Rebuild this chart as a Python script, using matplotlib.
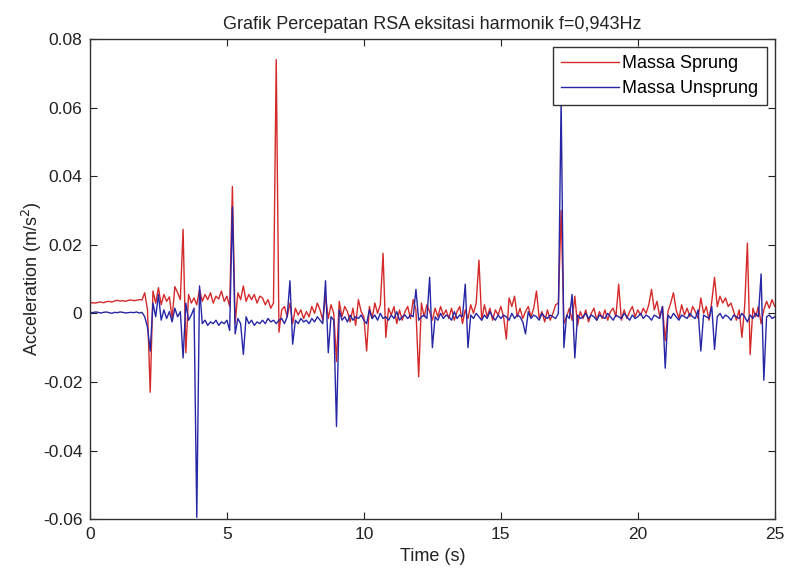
import numpy as np
import matplotlib
matplotlib.use('Agg')
import matplotlib.pyplot as plt

# Data: acceleration, in units of 0.001 m/s^2,
# one sample every 0.1 s from t = 0 to t = 25 s
dt = 0.1

sprung_milli = [
    3.0, 3.1, 3.0, 3.2, 3.3, 3.1, 3.4, 3.5, 3.3, 3.6,         # 0 s
    3.8, 3.6, 3.7, 3.5, 3.8, 3.9, 3.7, 3.8, 4.0, 3.9,         # 1 s
    6.0, 1.0, -23.0, 6.5, 3.0, 7.5, 2.5, 5.5, 3.5, 4.8,       # 2 s
    -1.5, 7.8, 6.0, 4.0, 24.5, -11.5, 5.5, 3.0, 4.5, 2.5,     # 3 s
    7.0, 3.5, 5.5, 4.0, 6.0, 3.0, 5.0, 4.2, 6.5, 3.5,         # 4 s
    5.0, 2.0, 37.0, -3.0, 6.0, 4.0, 8.0, 3.5, 5.5, 4.0,       # 5 s
    5.5, 3.0, 5.0, 4.5, 2.5, 4.0, 1.5, 3.0, 74.0, -5.5,       # 6 s
    1.0, 2.0, -1.0, 3.0, -3.0, 1.5, -0.5, 1.0, -1.5, 0.5,     # 7 s
    -1.0, 2.0, 0.0, 3.0, 1.0, -2.0, 5.0, -1.5, 2.5, 0.0,      # 8 s
    -14.0, 3.5, -1.0, 2.0, 0.5, -2.5, 1.5, -3.5, 4.0, 0.5,    # 9 s
    -1.0, -11.0, 2.0, -1.5, 3.0, 0.0, 2.5, 17.5, -7.0, 1.5,   # 10 s
    -0.5, 2.0, -3.0, 1.0, -2.0, 0.5, 2.0, -1.5, 4.0, 1.0,     # 11 s
    -18.5, 3.0, -1.0, 2.5, 0.5, -2.0, 1.5, -1.0, 2.0, -0.5,   # 12 s
    1.0, -1.5, 1.5, -2.0, 0.5, 2.0, -3.0, 1.0, -1.5, 2.5,     # 13 s
    0.0, 3.0, 15.5, -2.0, 2.5, -1.0, 1.5, -2.0, 1.0, -0.5,    # 14 s
    2.0, -1.0, -7.5, 4.5, 2.0, 5.0, -1.0, 1.5, -1.5, 0.5,     # 15 s
    2.0, -1.0, 1.5, 6.5, -1.5, 0.5, -2.5, 1.0, -2.0, 0.0,     # 16 s
    2.5, 3.0, 30.0, -3.0, -1.0, 1.5, -2.0, 5.0, -3.5, 0.5,    # 17 s
    -1.5, 1.0, -2.5, 0.0, 1.5, -2.0, 0.5, -1.5, 1.0, -2.0,    # 18 s
    0.5, 1.5, -1.0, 8.5, -2.0, 1.0, -1.5, 0.5, 2.0, -1.0,     # 19 s
    1.0, -0.5, 1.5, 0.0, 2.5, 7.0, 1.0, 3.5, -1.0, 2.0,       # 20 s
    -8.0, 0.5, 3.0, 6.0, 1.0, -1.5, 2.5, -0.5, 1.5, -1.0,     # 21 s
    2.0, 0.5, -1.5, 4.5, 0.0, 2.0, -2.0, 3.5, 10.5, 2.0,      # 22 s
    5.0, 3.0, 4.5, 2.0, 3.0, 0.5, -2.0, 1.0, -7.0, 2.0,       # 23 s
    20.5, -12.0, 1.5, -1.0, 2.0, -3.0, 1.0, 3.5, 1.5, 4.0,    # 24 s
    2.0]

unsprung_milli = [
    0.3, 0.2, 0.4, 0.3, 0.1, 0.3, 0.4, 0.2, 0.0, 0.3,         # 0 s
    0.2, 0.4, 0.3, 0.1, 0.2, 0.3, 0.2, 0.4, 0.1, 0.3,         # 1 s
    -1.0, -4.0, -11.0, 3.0, -1.0, 5.5, -2.0, 1.0, -1.5, 0.5,  # 2 s
    -2.5, 1.5, -1.0, 0.5, -13.0, 3.0, -2.0, -0.5, 1.5, -59.5, # 3 s
    8.0, -3.0, -2.0, -3.5, -2.5, -3.0, -2.0, -3.5, -2.5, -3.0,  # 4 s
    -2.0, -5.0, 31.0, -6.0, -1.5, -3.0, -12.0, -1.0, -3.0, -2.0,  # 5 s
    -3.5, -2.5, -3.0, -2.0, -3.0, -1.5, -2.5, -2.0, -3.0, -2.0,  # 6 s
    -1.5, -3.0, -1.0, 9.5, -9.0, -2.0, -3.0, -1.5, -2.5, -2.0,   # 7 s
    -3.0, -1.5, -2.5, -1.0, -2.0, -3.0, 9.5, -11.5, -1.0, -2.0,  # 8 s
    -33.0, 1.0, -2.0, -1.0, -2.5, -0.5, -2.0, -1.0, -1.5, -0.5,  # 9 s
    -2.0, -3.0, 1.0, -1.5, -0.5, -2.0, 0.0, -1.5, -1.0, -2.0,    # 10 s
    -0.5, -1.5, 0.5, -2.0, -1.0, -0.5, -1.5, -0.5, -1.0, 7.0,    # 11 s
    -2.0, -1.0, -0.5, -1.5, 10.5, -10.0, -1.0, -2.0, 0.0, -1.5,  # 12 s
    -0.5, -1.0, -2.0, 0.5, -1.5, -0.5, -1.0, 8.5, -10.0, -0.5,   # 13 s
    -1.5, 0.0, -1.0, -2.0, -0.5, -1.5, 0.5, -1.0, -2.0, -0.5,    # 14 s
    -1.5, -0.5, -1.0, -2.0, 0.0, -1.5, -0.5, -1.0, -2.5, -6.0,   # 15 s
    0.5, -1.5, -0.5, -1.0, -2.0, 0.0, -1.0, -1.5, -0.5, -1.0,    # 16 s
    -1.5, 0.0, 62.0, -10.0, -0.5, -1.5, 5.5, -13.0, -0.5, -1.5,  # 17 s
    -1.0, 0.0, -1.5, -0.5, -1.0, -2.0, -0.5, -1.0, -1.5, 0.0,    # 18 s
    -1.0, -2.0, -0.5, -1.0, -1.5, 0.0, -1.0, -2.0, -0.5, -1.5,   # 19 s
    -1.0, 0.0, -1.5, -0.5, -1.0, -2.0, -0.5, -1.0, -1.5, 2.0,    # 20 s
    -16.0, -0.5, -1.5, 0.0, -1.0, -2.0, -0.5, -1.0, -1.5, 0.0,   # 21 s
    -1.0, -1.5, 1.0, -11.0, -0.5, -1.0, -1.5, 2.0, -10.5, -1.0,  # 22 s
    0.0, -1.5, -0.5, -1.0, -2.0, -0.5, -1.0, -1.5, 0.0, -1.0,    # 23 s
    -2.5, -0.5, -1.5, 0.0, -1.0, 11.5, -19.5, -1.0, -0.5, -1.5,  # 24 s
    -1.0]

xticks = [0, 5, 10, 15, 20, 25]
yticks = [-0.06, -0.04, -0.02, 0, 0.02, 0.04, 0.06, 0.08]
ytick_labels = ['-0.06', '-0.04', '-0.02', '0', '0.02', '0.04', '0.06', '0.08']

sprung = np.array(sprung_milli) / 1000.0
unsprung = np.array(unsprung_milli) / 1000.0
t = np.arange(len(sprung)) * dt

plt.rcParams['font.family'] = ['Liberation Sans', 'DejaVu Sans']
txt = '#222222'

fig = plt.figure(figsize=(7.89, 5.73), dpi=100)
ax = fig.add_axes([0.114, 0.094, 0.868, 0.838])

ax.plot(t, sprung, color='#d42a2a', lw=1.0, label='Massa Sprung')
ax.plot(t, unsprung, color='#2626a6', lw=1.0, label='Massa Unsprung')

ax.set_xlim(0, 25)
ax.set_ylim(-0.06, 0.08)
ax.set_xticks(xticks)
ax.set_yticks(yticks)
ax.set_yticklabels(ytick_labels)
ax.tick_params(direction='in', top=True, right=True, length=5,
               labelsize=12.5, colors=txt)
ax.tick_params(axis='x', pad=6)
ax.tick_params(axis='y', pad=5.5)
for s in ax.spines.values():
    s.set_color('#333333')
    s.set_linewidth(1.0)

ax.set_title('Grafik Percepatan RSA eksitasi harmonik f=0,943Hz',
             fontsize=13, color=txt, pad=7)
ax.set_xlabel('Time (s)', fontsize=13, color=txt, labelpad=4)
ax.set_ylabel('Acceleration (m/s$^2$)', fontsize=13, color=txt, labelpad=-1)

leg = ax.legend(loc='upper right', fontsize=13, fancybox=False, framealpha=1,
                edgecolor='#333333', handlelength=3.2, handletextpad=0.2,
                borderpad=0.45, labelspacing=0.45, borderaxespad=0.45)
leg.get_frame().set_linewidth(1.0)

fig.savefig('out.png', dpi=100)
